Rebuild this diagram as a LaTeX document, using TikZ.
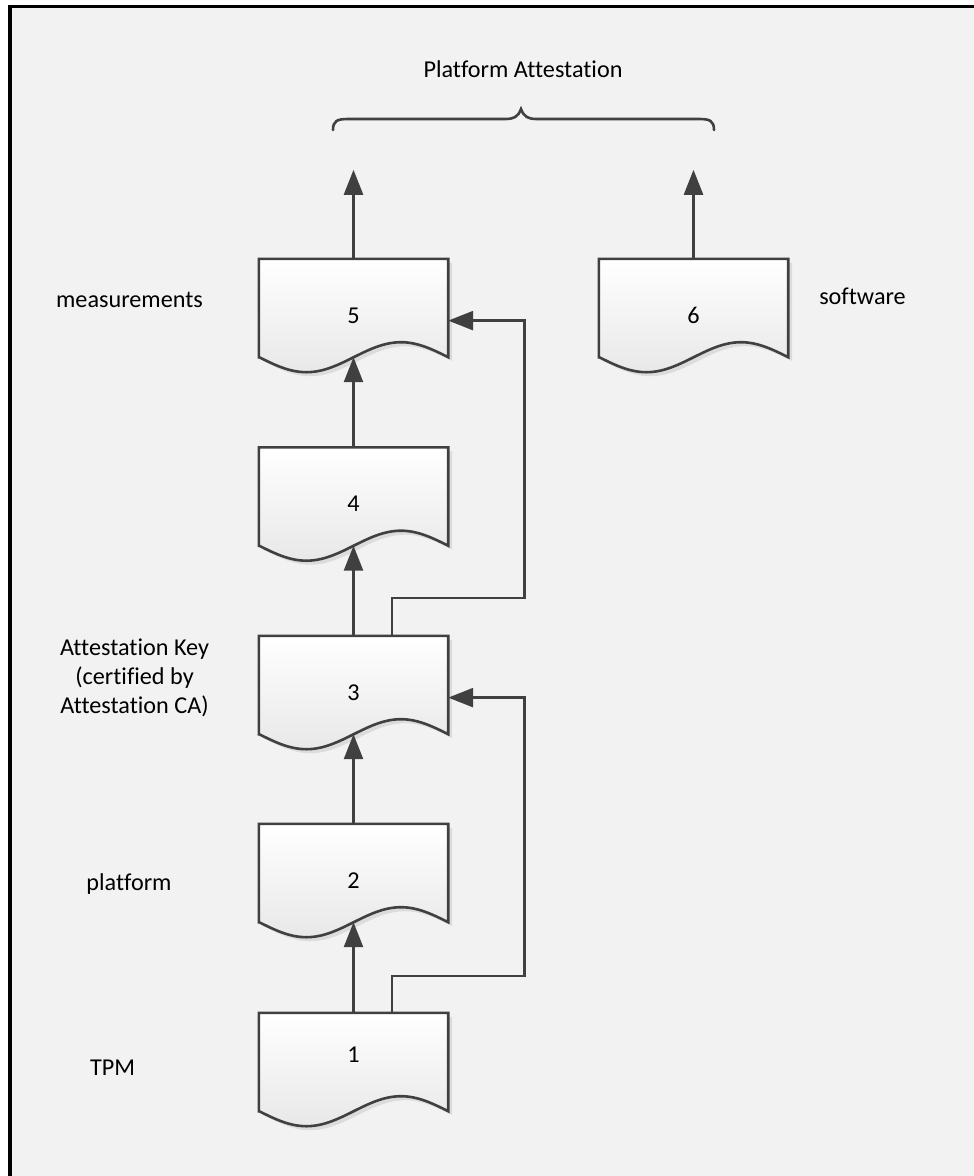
\documentclass[tikz,border=0pt]{standalone}
\usepackage{fontspec}
\setmainfont[Ligatures=NoCommon]{Carlito}
\usetikzlibrary{arrows.meta,calc,shadows}
\definecolor{bgc}{HTML}{F2F2F2}
\definecolor{lnc}{HTML}{404040}
\pgfdeclarelayer{pagebg}
\pgfdeclarelayer{shapes}
\pgfsetlayers{pagebg,shapes,main}
\tikzset{
  txt/.style={font=\fontsize{24.2}{29}\selectfont, inner sep=0pt, text=black},
  docbox/.style={rectangle, minimum width=189pt, inner sep=0pt, txt,
    text height=64pt, text depth=34pt},
  docboxlow/.style={docbox, text height=49.5pt, text depth=48.5pt},
  docfill/.style={draw=lnc, line width=2.6pt, line join=miter,
    top color=white, bottom color=black!9,
    drop shadow={shadow xshift=4pt, shadow yshift=-4pt, fill=black, opacity=0.09}},
  conn/.style={draw=lnc, line width=2.6pt},
  arr/.style={conn, -{Triangle[length=25pt,width=19pt]}},
}
\newcommand\docshape[1]{%
  \begin{pgfonlayer}{shapes}
    \path[docfill] (#1.south west) -- (#1.north west) -- (#1.north east) -- (#1.south east)
      sin ++(-47.25,-15) cos ++(-47.25,15) sin ++(-47.25,15) cos ++(-47.25,-15) -- cycle;
  \end{pgfonlayer}}
\begin{document}
\begin{tikzpicture}[x=1pt,y=-1pt]
\useasboundingbox (0,0) rectangle (974,1176);
\begin{pgfonlayer}{pagebg}
  \fill[white] (0,0) rectangle (974,1176);
  \fill[bgc] (8,5) rectangle (974,1176);
  \draw[black, line width=3.5pt] (10,1176) -- (10,6.5) -- (974,6.5);
\end{pgfonlayer}

% documents
\node[docbox] (d5) at (353.5,308) {5};
\node[docbox] (d6) at (693.5,308) {6};
\node[docbox] (d4) at (353.5,496.5) {4};
\node[docbox] (d3) at (353.5,685) {3};
\node[docbox] (d2) at (353.5,873) {2};
\node[docboxlow] (d1) at (353.5,1062) {1};
\docshape{d5}\docshape{d6}\docshape{d4}\docshape{d3}\docshape{d2}\docshape{d1}

% labels
\node[txt, anchor=base] (lpa) at (523,77) {Platform Attestation};
\node[txt, anchor=base] (lmeas) at (129.5,307) {measurements};
\node[txt, anchor=base] (lsoft) at (862.5,304) {software};
\node[txt, anchor=base, align=center] (lak) at (134.5,713) {Attestation Key\\(certified by\\Attestation CA)};
\node[txt, anchor=base] (lplat) at (129,890) {platform};
\node[txt, anchor=base] (ltpm) at (112.5,1075) {TPM};

% brace
\coordinate (bl) at (333,130);
\coordinate (br) at (714,130);
\draw[conn, line cap=round] (bl) .. controls (333,121) and (337,119) .. (348,119) -- (505,119)
  .. controls (514,119) and (518,117) .. (521,109)
  .. controls (524,117) and (528,119) .. (537,119) -- (699,119)
  .. controls (710,119) and (714,121) .. (br);

% free ends of top arrows
\coordinate (t5) at ($(d5.north)+(0,-89)$);
\coordinate (t6) at ($(d6.north)+(0,-89)$);

% connectors
\draw[arr] (d5.north) -- (t5);
\draw[arr] (d6.north) -- (t6);
\draw[arr] (d4.north) -- (d5.south);
\draw[arr] (d3.north) -- (d4.south);
\draw[arr] (d2.north) -- (d3.south);
\draw[arr] (d1.north) -- (d2.south);
\draw[arr] ($(d3.north)+(38.5,0)$) -- ++(0,-38) -| ([xshift=76pt]d5.mid east) -- (d5.mid east);
\draw[arr] ($(d1.north)+(38.5,0)$) -- ++(0,-37) -| ([xshift=76pt]d3.mid east) -- (d3.mid east);
\end{tikzpicture}
\end{document}
